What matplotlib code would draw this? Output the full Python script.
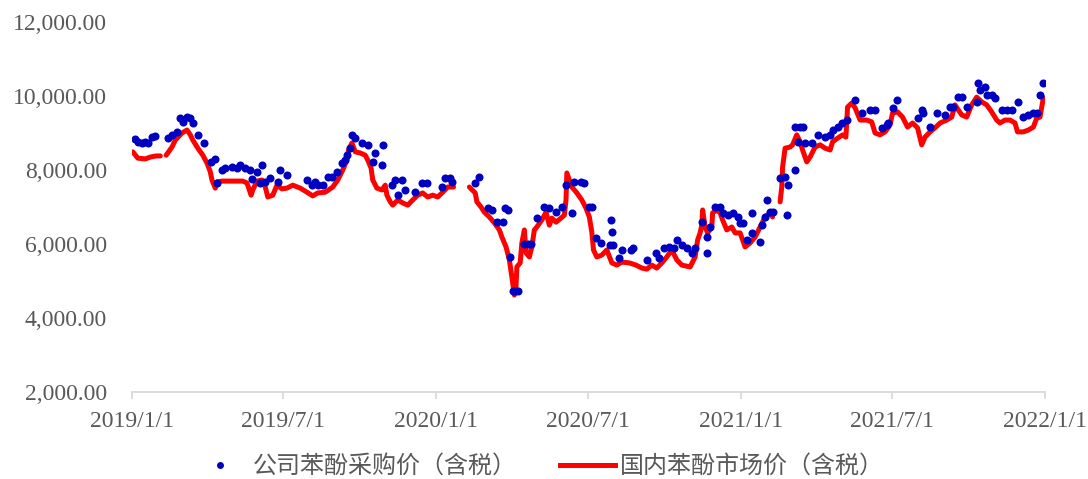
import numpy as np
import pandas as pd
import matplotlib
matplotlib.use("Agg")
import matplotlib.pyplot as plt
from matplotlib.ticker import FuncFormatter
from matplotlib.lines import Line2D

# ---------------- data ----------------
market_dates = [
    "2019-01-02", "2019-01-08", "2019-01-17", "2019-01-23", "2019-01-30", "2019-02-04", "2019-02-07",
    "2019-02-11", "2019-02-18", "2019-02-22", "2019-03-02", "2019-03-08", "2019-03-12", "2019-03-15",
    "2019-03-21", "2019-03-27", "2019-04-01", "2019-04-05", "2019-04-07", "2019-04-11", "2019-04-13",
    "2019-04-19", "2019-05-14", "2019-05-19", "2019-05-24", "2019-05-26", "2019-05-31", "2019-06-06",
    "2019-06-10", "2019-06-13", "2019-06-19", "2019-06-24", "2019-06-30", "2019-07-06", "2019-07-13",
    "2019-07-22", "2019-07-30", "2019-08-06", "2019-08-12", "2019-08-21", "2019-08-30", "2019-09-05",
    "2019-09-11", "2019-09-16", "2019-09-18", "2019-09-22", "2019-09-26", "2019-10-02", "2019-10-08",
    "2019-10-11", "2019-10-15", "2019-10-17", "2019-10-22", "2019-10-28", "2019-11-01", "2019-11-03",
    "2019-11-07", "2019-11-10", "2019-11-16", "2019-11-22", "2019-11-28", "2019-12-04", "2019-12-10",
    "2019-12-16", "2019-12-22", "2019-12-28", "2020-01-03", "2020-01-09", "2020-01-15", "2020-01-22",
    "2020-01-30",
    "2020-02-10", "2020-02-17", "2020-02-19", "2020-02-24", "2020-02-28", "2020-03-05", "2020-03-11",
    "2020-03-17", "2020-03-20", "2020-03-25", "2020-03-29", "2020-04-01", "2020-04-04", "2020-04-06",
    "2020-04-07", "2020-04-11", "2020-04-13", "2020-04-16", "2020-04-18", "2020-04-22", "2020-04-25",
    "2020-04-28", "2020-05-01", "2020-05-07", "2020-05-12", "2020-05-16", "2020-05-19", "2020-05-24",
    "2020-05-30", "2020-06-03", "2020-06-05", "2020-06-06", "2020-06-09", "2020-06-12", "2020-06-18",
    "2020-06-24", "2020-06-29", "2020-07-03", "2020-07-06", "2020-07-08", "2020-07-12", "2020-07-18",
    "2020-07-24", "2020-07-30", "2020-08-05", "2020-08-11", "2020-08-20", "2020-08-28", "2020-09-04",
    "2020-09-10", "2020-09-16", "2020-09-22", "2020-09-28", "2020-10-04", "2020-10-10", "2020-10-16",
    "2020-10-22", "2020-11-01", "2020-11-07", "2020-11-10", "2020-11-13", "2020-11-15", "2020-11-16",
    "2020-11-19", "2020-11-22", "2020-11-27", "2020-11-28", "2020-12-03", "2020-12-07", "2020-12-10",
    "2020-12-15", "2020-12-21", "2020-12-25", "2020-12-31", "2021-01-06", "2021-01-12", "2021-01-18",
    "2021-01-24", "2021-01-30", "2021-02-05", "2021-02-08",
    "2021-02-12",
    "2021-02-17", "2021-02-19", "2021-02-20", "2021-02-23", "2021-03-01", "2021-03-04", "2021-03-09",
    "2021-03-13", "2021-03-16", "2021-03-21", "2021-03-25", "2021-03-31", "2021-04-06", "2021-04-12",
    "2021-04-18", "2021-04-21", "2021-04-27", "2021-05-03", "2021-05-07", "2021-05-09", "2021-05-14",
    "2021-05-18", "2021-05-24", "2021-06-01", "2021-06-07", "2021-06-11", "2021-06-17", "2021-06-23",
    "2021-06-29", "2021-07-02", "2021-07-08", "2021-07-14", "2021-07-20", "2021-07-26", "2021-08-01",
    "2021-08-06", "2021-08-10", "2021-08-16", "2021-08-22", "2021-08-28", "2021-09-05", "2021-09-11",
    "2021-09-15", "2021-09-19", "2021-09-23", "2021-09-29", "2021-10-05", "2021-10-11", "2021-10-17",
    "2021-10-23", "2021-10-29", "2021-11-04", "2021-11-08", "2021-11-14", "2021-11-20", "2021-11-26",
    "2021-11-29", "2021-12-06", "2021-12-12", "2021-12-18", "2021-12-22", "2021-12-26", "2021-12-30",
]
market_prices = [
    8490, 8320, 8300, 8350, 8380, 8380, None,
    8400, 8620, 8810, 9000, 9080, 8950, 8810,
    8590, 8400, 8190, 7950, 7730, 7510, 7680,
    7700, 7700, 7650, 7320, 7460, 7700, 7730,
    7540, 7270, 7320, 7590, 7490, 7510, 7590,
    7510, 7400, 7300, 7380, 7400, 7540, 7730,
    8000, 8270, 8540, 8730, 8490, 8460, 8400,
    8270, 8050, 7730, 7510, 7460, 7590, 7320,
    7140, 7050, 7190, 7110, 7050, 7190, 7320,
    7380, 7270, 7320, 7270, 7400, 7540, 7540,
    None,
    7540, 7380, 7140, 7000, 6860, 6730, 6570,
    6380, 6190, 5920, 5570, 5110, 4620, 4840,
    5380, 5490, 6030, 6380, 5760, 5650, 5920,
    6380, 6460, 6650, 6860, 6510, 6700, 6590,
    6700, 6780, 7190, 7920, 7730, 7540, 7380,
    7190, 6970, 6730, 6320, 5840, 5650, 5700,
    5840, 5490, 5430, 5510, 5490, 5430, 5350,
    5320, 5430, 5350, 5490, 5650, 5840, 5570,
    5430, 5380, 5650, 6110, 6300, 6510, 6920,
    6460, 6300, 6460, 6840, 6920, 6840, 6650,
    6380, 6460, 6300, 6300, 5920, 6030, 6190,
    6460, 6730, 6840, 6730,
    None,
    7140, 7540, 8080, 8590, 8620, 8680, 8950,
    8760, 8540, 8220, 8350, 8620, 8680, 8590,
    8540, 8760, 8860, 8950, 8890, 9700, 9810,
    9680, 9350, 9350, 9300, 9000, 8950, 9030,
    9220, 9540, 9570, 9430, 9160, 9270, 9140,
    8680, 8890, 9030, 9140, 9270, 9350, 9430,
    9760, 9620, 9490, 9430, 9760, 9970, 9840,
    9760, 9570, 9350, 9270, 9350, 9350, 9270,
    9030, 9030, 9080, 9160, 9400, 9430, 9950,
]

purchase_dates = [
    "2019-01-05", "2019-01-08", "2019-01-13", "2019-01-17", "2019-01-20", "2019-01-25", "2019-01-29",
    "2019-02-13", "2019-02-18", "2019-02-24", "2019-02-28", "2019-03-03", "2019-03-08", "2019-03-12",
    "2019-03-15", "2019-03-21", "2019-03-28", "2019-04-06", "2019-04-11", "2019-04-13", "2019-04-19",
    "2019-04-23", "2019-05-01", "2019-05-07", "2019-05-11", "2019-05-17", "2019-05-23", "2019-05-25",
    "2019-05-31", "2019-06-04", "2019-06-06", "2019-06-10", "2019-06-16", "2019-06-25", "2019-06-28",
    "2019-07-06", "2019-07-30", "2019-08-05", "2019-08-09", "2019-08-12", "2019-08-18", "2019-08-24",
    "2019-08-29", "2019-09-04", "2019-09-10", "2019-09-14", "2019-09-16", "2019-09-20", "2019-09-22",
    "2019-09-26", "2019-10-04", "2019-10-11", "2019-10-17", "2019-10-20", "2019-10-28", "2019-10-29",
    "2019-11-09", "2019-11-13", "2019-11-16", "2019-11-21", "2019-11-25", "2019-12-07", "2019-12-15",
    "2019-12-21", "2020-01-08", "2020-01-12", "2020-01-18", "2020-01-20", "2020-02-17", "2020-02-21",
    "2020-03-03", "2020-03-08", "2020-03-14", "2020-03-21", "2020-03-24", "2020-03-27", "2020-03-30",
    "2020-04-02", "2020-04-05", "2020-04-08", "2020-04-16", "2020-04-20", "2020-04-24", "2020-05-01",
    "2020-05-10", "2020-05-16", "2020-05-24", "2020-05-31", "2020-06-05", "2020-06-12", "2020-06-15",
    "2020-06-23", "2020-06-27", "2020-07-03", "2020-07-06", "2020-07-11", "2020-07-17", "2020-07-29",
    "2020-07-30", "2020-07-28", "2020-07-31", "2020-08-08", "2020-08-11", "2020-08-22", "2020-08-24",
    "2020-09-10", "2020-09-21", "2020-09-25", "2020-10-01", "2020-10-07", "2020-10-13", "2020-10-16",
    "2020-10-22", "2020-10-28", "2020-11-03", "2020-11-07", "2020-11-15", "2020-11-21", "2020-11-21",
    "2020-11-25", "2020-12-01", "2020-12-07", "2020-12-10", "2020-12-16", "2020-12-22", "2020-12-28",
    "2020-12-31", "2021-01-03", "2021-01-08", "2021-01-14", "2021-01-14", "2021-01-24", "2021-01-26",
    "2021-01-30", "2021-02-01", "2021-02-05", "2021-02-08", "2021-02-25", "2021-02-17", "2021-02-23",
    "2021-02-26", "2021-03-07", "2021-03-07", "2021-03-13", "2021-03-16", "2021-03-10", "2021-03-19",
    "2021-03-27", "2021-04-03", "2021-04-12", "2021-04-18", "2021-04-21", "2021-04-27", "2021-05-02",
    "2021-05-08", "2021-05-18", "2021-05-26", "2021-06-05", "2021-06-11", "2021-06-19", "2021-06-25",
    "2021-06-27", "2021-07-02", "2021-07-07", "2021-08-01", "2021-08-06", "2021-08-08", "2021-08-16",
    "2021-08-24", "2021-09-03", "2021-09-09", "2021-09-13", "2021-09-19", "2021-09-23", "2021-09-29",
    "2021-10-11", "2021-10-13", "2021-10-15", "2021-10-21", "2021-10-23", "2021-10-29", "2021-11-02",
    "2021-11-10", "2021-11-16", "2021-11-22", "2021-11-30", "2021-12-06", "2021-12-12", "2021-12-18",
    "2021-12-22", "2021-12-26", "2021-12-30",
]
purchase_prices = [
    8840, 8760, 8730, 8760, 8730, 8890, 8920,
    8870, 8950, 9030, 9400, 9300, 9430, 9400,
    9270, 8950, 8730, 8220, 8300, 7650, 8000,
    8050, 8080, 8050, 8130, 8050, 8000, 7760,
    7950, 7650, 8130, 7680, 7780, 7680, 8000,
    7860, 7730, 7590, 7680, 7590, 7590, 7810,
    7810, 7950, 8190, 8270, 8400, 8590, 8950,
    8870, 8730, 8680, 8220, 8460, 8130, 8680,
    7590, 7730, 7320, 7730, 7460, 7400, 7650,
    7650, 7540, 7780, 7780, 7680, 7650, 7810,
    6970, 6920, 6590, 6590, 6970, 6920, 5650,
    4740, 4740, 4740, 6000, 6000, 6000, 6700,
    7000, 6970, 6860, 7000, 7590, 6840, 7680,
    7680, 7650, 7000, 7000, 6160, 6030, 6650,
    6320, 5970, 5970, 5620, 5840, 5840, 5890,
    5570, 5760, 5620, 5890, 5920, 5890, 6110,
    5970, 5890, 5760, 5890, 6590, 6190, 5760,
    6460, 7000, 7000, 6840, 6780, 6840, 6730,
    6570, 6570, 6110, 6840, 6300, 6050, 6510,
    6730, 7190, 6860, 6860, 6780, 7780, 7810,
    7590, 8000, 9160, 9160, 9160, 8760, 8730,
    8730, 8950, 8890, 8950, 9080, 9160, 9270,
    9350, 9890, 9540, 9620, 9620, 9130, 9220,
    9270, 9680, 9890, 9400, 9620, 9540, 9160,
    9540, 9490, 9700, 9700, 9970, 9970, 9700,
    9840, 10350, 10160, 10240, 10030, 10030, 9950,
    9620, 9620, 9620, 9840, 9430, 9490, 9540,
    9540, 10030, 10350,
]

x_ticks = ["2019-01-01", "2019-07-01", "2020-01-01", "2020-07-01",
           "2021-01-01", "2021-07-01", "2022-01-01"]
x_tick_labels = ["2019/1/1", "2019/7/1", "2020/1/1", "2020/7/1",
                 "2021/1/1", "2021/7/1", "2022/1/1"]
y_ticks = [2000, 4000, 6000, 8000, 10000, 12000]

label_purchase = "公司苯酚采购价（含税）"
label_market = "国内苯酚市场价（含税）"

# ---------------- plot ----------------
plt.rcParams['font.family'] = ['Liberation Serif', 'Noto Sans CJK SC', 'DejaVu Sans']

fig = plt.figure(figsize=(10.88, 4.79), dpi=100)
ax = fig.add_axes([132 / 1088, 1 - 392 / 479, (1045 - 132) / 1088, (392 - 22) / 479])

md = pd.to_datetime(market_dates)
mp = np.array([np.nan if v is None else v for v in market_prices], dtype=float)
pdts = pd.to_datetime(purchase_dates)
pp = np.array(purchase_prices, dtype=float)

blue = "#0000C0"
red = "#FF0000"

ax.plot(md, mp, color=red, lw=3.6, solid_capstyle='round', solid_joinstyle='round', zorder=2)
ax.plot(pdts, pp, linestyle='none', marker='o', markersize=5.8, color=blue,
        markeredgewidth=0, zorder=3)

ax.set_xlim(pd.Timestamp(x_ticks[0]), pd.Timestamp(x_ticks[-1]))
ax.set_ylim(2000, 12000)
ax.set_xticks(pd.to_datetime(x_ticks))
ax.set_xticklabels(x_tick_labels)
ax.set_yticks(y_ticks)
ax.yaxis.set_major_formatter(FuncFormatter(lambda v, p: f"{v:,.2f}"))

for s in ['top', 'right', 'left']:
    ax.spines[s].set_visible(False)
ax.spines['bottom'].set_color('#D9D9D9')
ax.spines['bottom'].set_linewidth(1.3)

ax.tick_params(axis='y', length=0, pad=18, labelsize=17, labelcolor='#595959')
ax.tick_params(axis='x', length=5, width=1.3, color='#D9D9D9', pad=9,
               labelsize=17, labelcolor='#595959')

handles = [
    Line2D([], [], linestyle='none', marker='o', markersize=5, color=blue, markeredgewidth=0),
    Line2D([], [], color=red, lw=3.6),
]
leg = fig.legend(handles, [label_purchase, label_market], loc='center',
                 bbox_to_anchor=(538 / 1088, 1 - 466 / 479), ncol=2, frameon=False,
                 prop={'family': ['Noto Sans CJK SC'], 'size': 17.3},
                 handlelength=2.3, handletextpad=0.2, columnspacing=1.8,
                 labelcolor='#595959')

fig.savefig("out.png", dpi=100)
